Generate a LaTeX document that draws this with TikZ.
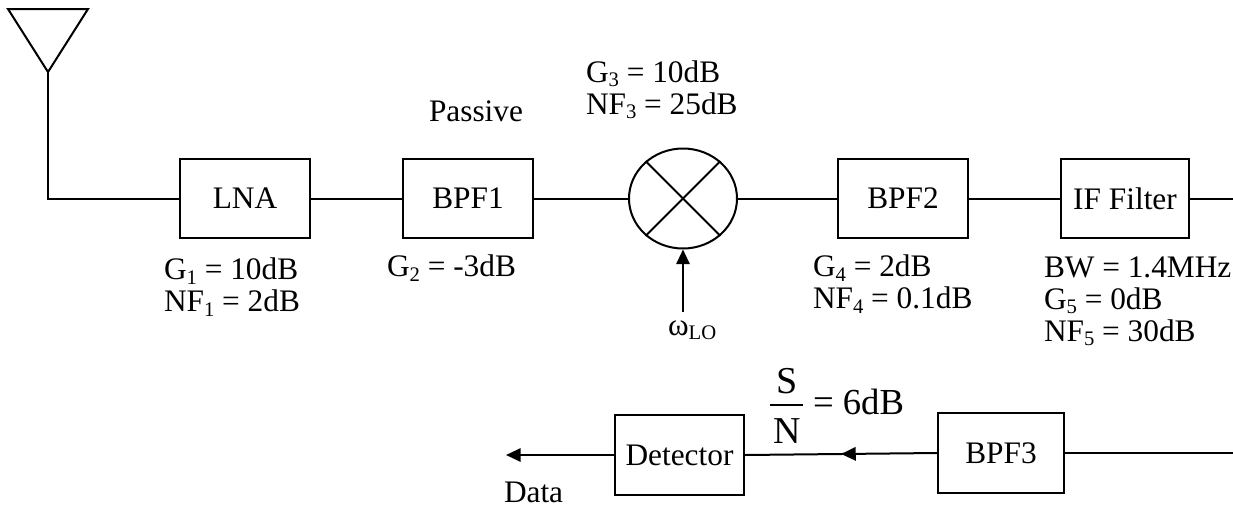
\documentclass[tikz,border=0pt]{standalone}
\usepackage{fontspec}
\setmainfont{Liberation Serif}
\usetikzlibrary{arrows.meta,decorations.markings,shapes.geometric}
\begin{document}
\begin{tikzpicture}[x=0.75pt,y=-0.75pt,
  line width=1.5pt,
  blk/.style={draw,rectangle,minimum width=97pt,minimum height=59pt,inner sep=0pt,font=\fontsize{23.5}{27}\selectfont},
  lbl/.style={anchor=west,inner sep=0pt,font=\fontsize{23.5}{27}\selectfont,align=left},
  tip/.style={-{Triangle[length=11pt,width=10pt]}},
  midtip/.style={decoration={markings,mark=at position 0.5 with {\arrow{Triangle[length=11pt,width=10pt]}}},postaction={decorate}}
]
\newcommand{\sbs}[1]{\raisebox{-0.3ex}{\fontsize{15.5}{16}\selectfont #1}}
\useasboundingbox (0,0) rectangle (1233,508);
% antenna
\coordinate (apex) at (48,72);
\draw[line join=miter] (8,9) -- (88,9) -- (apex) -- cycle;
% blocks
\node[blk] (lna) at (245,198.5) {LNA};
\node[blk] (bpf1) at (468,198.5) {BPF1};
\node[draw,ellipse,minimum width=81pt,minimum height=75pt,inner sep=0pt] (mix) at (683,198.5) {};
\draw (mix.135) -- (mix.-45);
\draw (mix.45) -- (mix.-135);
\node[blk] (bpf2) at (903,198.5) {BPF2};
\node[blk,minimum width=96pt] (iff) at (1125,198.5) {IF Filter};
\coordinate (rend) at (1233,198.5);
\node[blk,minimum width=94.5pt,minimum height=60pt] (bpf3) at (1001,453) {BPF3};
\coordinate (rend2) at (1233,453);
\node[blk,minimum width=97pt,minimum height=60pt] (det) at (679.5,455) {Detector};
\coordinate (dataend) at (506,455);
\coordinate (lo) at (683,312);
% connections
\draw (apex) |- (lna.west);
\draw (lna.east) -- (bpf1.west);
\draw (bpf1.east) -- (mix.west);
\draw (mix.east) -- (bpf2.west);
\draw (bpf2.east) -- (iff.west);
\draw (iff.east) -- (rend);
\draw (rend2) -- (bpf3.east);
\draw[midtip] (bpf3.west) -- (det.east);
\draw[tip] (det.west) -- (dataend);
\draw[tip] (lo) -- (mix.south);
% labels
\node[lbl] (l1) at (163,287) {G\sbs{1} = 10dB\\[-3pt]NF\sbs{1} = 2dB};
\node[lbl] (l2) at (386,268) {G\sbs{2} = -3dB};
\node[lbl] (pas) at (428,111) {Passive};
\node[lbl] (l3) at (585,90) {G\sbs{3} = 10dB\\[-3pt]NF\sbs{3} = 25dB};
\node[lbl] (l4) at (812,284) {G\sbs{4} = 2dB\\[-3pt]NF\sbs{4} = 0.1dB};
\node[lbl] (l5) at (1043,301) {BW = 1.4MHz\\[-3pt]G\sbs{5} = 0dB\\[-3pt]NF\sbs{5} = 30dB};
\node[lbl] (wlo) at (667,330) {ω\sbs{LO}};
\node[lbl] (data) at (503,492) {Data};
% S/N fraction
\node[inner sep=0pt,anchor=base,font=\fontsize{28.5}{30}\selectfont] (snS) at (787,393) {S};
\node[inner sep=0pt,anchor=base,font=\fontsize{28.5}{30}\selectfont] (snN) at (787,443) {N};
\coordinate (barL) at (770,405);
\coordinate (barR) at (803,405);
\draw[line width=1pt] (barL) -- (barR);
\node[inner sep=0pt,anchor=base west,font=\fontsize{27.5}{30}\selectfont] (sn2) at (812,414) {= 6dB};
\end{tikzpicture}
\end{document}
